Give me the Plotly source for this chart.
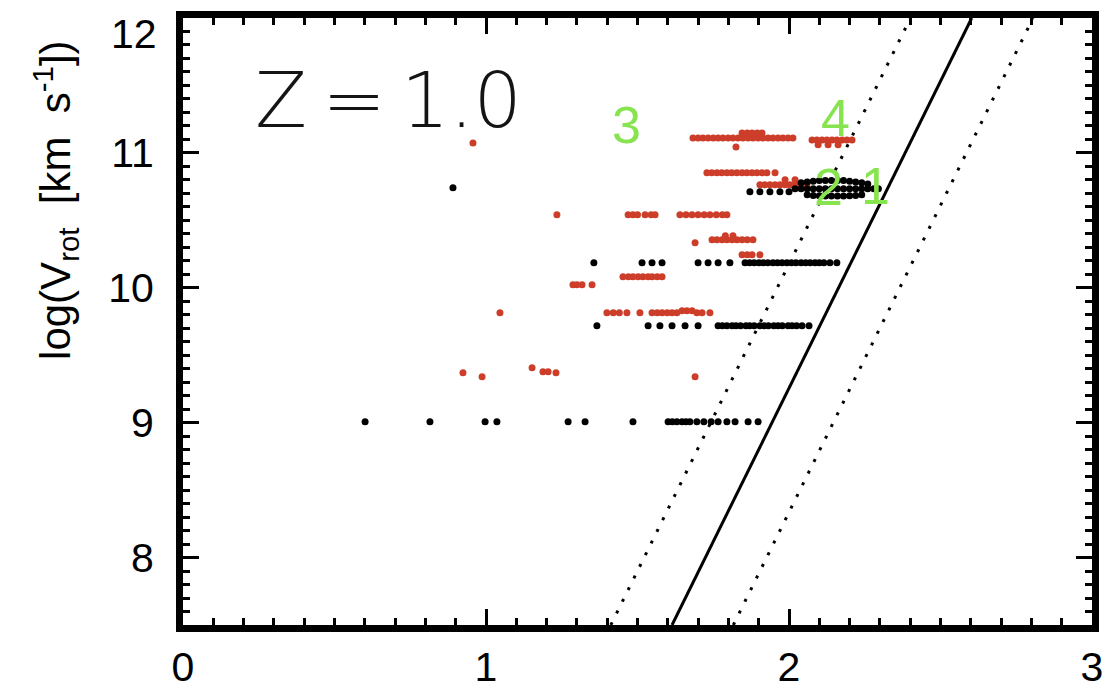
import plotly.graph_objects as go

# ---- axis ranges and tick values ----
x_range = [0, 3]
y_range = [7.5, 12]
x_ticks = [0, 1, 2, 3]
y_ticks = [8, 9, 10, 11, 12]
y_tick_text = ["8", "9", "10", "11", ""]

# ---- reference relation: y = slope * x + intercept, with a +/- scatter band ----
tf_slope = 4.55
tf_intercept = 0.156
tf_band = 0.92

# ---- red sample ----
red_x = [0.957, 1.234,
         1.469, 1.485, 1.500, 1.525, 1.545, 1.558, 1.640, 1.660, 1.680, 1.700, 1.720, 1.739, 1.760, 1.780, 1.795,
         1.683, 1.700, 1.716, 1.733, 1.750, 1.766, 1.782, 1.799, 1.815, 1.832, 1.848, 1.865, 1.881, 1.898,
         1.914, 1.931, 1.947, 1.964, 1.980, 1.997, 2.013,
         1.845, 1.862, 1.878, 1.895, 1.911, 1.825,
         2.076, 2.092, 2.109, 2.125, 2.142, 2.158, 2.175, 2.191, 2.208, 2.096, 2.129, 2.162,
         1.729, 1.745, 1.762, 1.778, 1.795, 1.811, 1.828, 1.845, 1.861, 1.878, 1.894, 1.911, 1.927, 1.954,
         1.904, 1.920, 1.937, 1.954, 1.970, 1.987, 2.003, 2.020, 2.036, 2.059, 1.987, 2.020,
         1.690, 1.746, 1.762, 1.779, 1.795, 1.812, 1.828, 1.845, 1.862, 1.881, 1.790, 1.815,
         1.845, 1.862, 1.878, 1.904,
         1.452, 1.470, 1.485, 1.502, 1.518, 1.535, 1.548, 1.565, 1.581,
         1.287, 1.300, 1.317, 1.350,
         1.046, 1.399, 1.420, 1.440, 1.465, 1.508, 1.548, 1.565, 1.581, 1.598, 1.614, 1.630,
         1.647, 1.663, 1.680, 1.696, 1.713, 1.739,
         0.924, 0.987, 1.152, 1.188, 1.205, 1.231, 1.690]
red_y = [11.074, 10.541,
         10.541, 10.541, 10.541, 10.541, 10.541, 10.541, 10.541, 10.541, 10.541, 10.541, 10.541, 10.541,
         10.541, 10.541, 10.541,
         11.111, 11.111, 11.111, 11.111, 11.111, 11.111, 11.111, 11.111, 11.111, 11.111, 11.111, 11.111,
         11.111, 11.111,
         11.111, 11.111, 11.111, 11.111, 11.111, 11.111, 11.111,
         11.148, 11.148, 11.148, 11.148, 11.148, 11.044,
         11.096, 11.096, 11.096, 11.096, 11.096, 11.096, 11.096, 11.096, 11.096, 11.060, 11.060, 11.060,
         10.852, 10.852, 10.852, 10.852, 10.852, 10.852, 10.852, 10.852, 10.852, 10.852, 10.852, 10.852,
         10.852, 10.852,
         10.763, 10.763, 10.763, 10.763, 10.763, 10.763, 10.763, 10.763, 10.763, 10.763, 10.800, 10.800,
         10.333, 10.356, 10.356, 10.356, 10.356, 10.356, 10.356, 10.356, 10.356, 10.356, 10.385, 10.385,
         10.244, 10.244, 10.244, 10.244,
         10.081, 10.081, 10.081, 10.081, 10.081, 10.081, 10.081, 10.081, 10.081,
         10.022, 10.022, 10.022, 10.022,
         9.815, 9.815, 9.815, 9.815, 9.815, 9.815, 9.815, 9.815, 9.815, 9.815, 9.815, 9.815,
         9.830, 9.830, 9.830, 9.815, 9.815, 9.815,
         9.370, 9.341, 9.407, 9.378, 9.378, 9.370, 9.341]

# ---- black sample ----
black_x = [0.891,
           1.871, 1.904, 1.937, 1.970, 2.000,
           2.040, 2.060, 2.080, 2.100, 2.120, 2.140, 2.160, 2.180, 2.200, 2.220, 2.240, 2.260,
           2.020, 2.040, 2.060, 2.080, 2.100, 2.120, 2.140, 2.160, 2.180, 2.200, 2.220, 2.240, 2.260, 2.280, 2.295,
           2.060, 2.080, 2.100, 2.120, 2.140, 2.160, 2.180, 2.200, 2.220, 2.240,
           1.356, 1.515, 1.548, 1.581, 1.700, 1.733, 1.766, 1.805,
           1.855, 1.870, 1.885, 1.901, 1.915, 1.930, 1.947, 1.962, 1.977, 1.993, 2.008, 2.023, 2.040, 2.055,
           2.070, 2.086, 2.100, 2.115, 2.135, 2.158,
           1.366, 1.535, 1.574, 1.614, 1.657, 1.700,
           1.766, 1.780, 1.795, 1.812, 1.825, 1.840, 1.858, 1.870, 1.885, 1.904, 1.918, 1.932, 1.950, 1.964,
           1.978, 1.997, 2.010, 2.025, 2.043, 2.066,
           0.601, 0.815, 0.997, 1.036, 1.271, 1.327, 1.485,
           1.601, 1.615, 1.630, 1.647, 1.660, 1.673, 1.696, 1.719, 1.743, 1.766, 1.795, 1.822, 1.865, 1.898]
black_y = [10.741,
           10.711, 10.711, 10.711, 10.711, 10.711,
           10.778, 10.785, 10.790, 10.795, 10.795, 10.795, 10.795, 10.795, 10.790, 10.785, 10.778, 10.770,
           10.735, 10.735, 10.735, 10.735, 10.735, 10.735, 10.735, 10.735, 10.735, 10.735, 10.735, 10.735,
           10.735, 10.735, 10.735,
           10.689, 10.685, 10.682, 10.680, 10.680, 10.680, 10.680, 10.682, 10.685, 10.689,
           10.185, 10.185, 10.185, 10.185, 10.185, 10.185, 10.185, 10.185,
           10.185, 10.185, 10.185, 10.185, 10.185, 10.185, 10.185, 10.185, 10.185, 10.185, 10.185, 10.185,
           10.185, 10.185,
           10.185, 10.185, 10.185, 10.185, 10.185, 10.185,
           9.719, 9.719, 9.719, 9.719, 9.719, 9.719,
           9.719, 9.719, 9.719, 9.719, 9.719, 9.719, 9.719, 9.719, 9.719, 9.719, 9.719, 9.719, 9.719, 9.719,
           9.719, 9.719, 9.719, 9.719, 9.719, 9.719,
           9.007, 9.007, 9.007, 9.007, 9.007, 9.007, 9.007,
           9.007, 9.007, 9.007, 9.007, 9.007, 9.007, 9.007, 9.007, 9.007, 9.007, 9.007, 9.007, 9.007, 9.007]

# ---- numbered labels ----
label_text = ["3", "4", "2", "1"]
label_x = [1.465, 2.155, 2.129, 2.287]
label_y = [11.207, 11.260, 10.748, 10.756]

FONT = "Liberation Sans"
RED = "rgb(205,62,42)"
GREEN = "rgb(135,228,78)"

fig = go.Figure()


def x_at(y, shift):
    return (y - (tf_intercept + shift)) / tf_slope


for shift, dash in [(0.0, "solid"), (tf_band, "3px,10px"), (-tf_band, "3px,10px")]:
    fig.add_trace(go.Scatter(
        x=[x_at(y_range[0], shift), x_at(y_range[1], shift)],
        y=[y_range[0], y_range[1]],
        mode="lines", line=dict(color="black", width=3, dash=dash),
        showlegend=False, hoverinfo="skip"))

fig.add_trace(go.Scatter(x=red_x, y=red_y, mode="markers",
                         marker=dict(color=RED, size=7, symbol="circle"),
                         showlegend=False))
fig.add_trace(go.Scatter(x=black_x, y=black_y, mode="markers",
                         marker=dict(color="black", size=7, symbol="circle"),
                         showlegend=False))

for t, lx, ly in zip(label_text, label_x, label_y):
    fig.add_annotation(text=t, x=lx, y=ly, xref="x", yref="y",
                       xanchor="center", yanchor="middle", showarrow=False,
                       font=dict(family=FONT, size=52, color=GREEN))

axis_common = dict(
    showline=True, linewidth=7, linecolor="black", mirror="ticks",
    ticks="inside", ticklen=16, tickwidth=3, tickcolor="black",
    showgrid=False, zeroline=False, automargin=False,
    tickfont=dict(family=FONT, size=41, color="black"),
)

fig.update_xaxes(range=x_range, tickvals=x_ticks, ticklabelstandoff=0,
                 minor=dict(dtick=0.1, tick0=0, ticks="inside", ticklen=7,
                            tickwidth=3, tickcolor="black"),
                 **axis_common)
fig.update_yaxes(range=y_range, tickvals=y_ticks, ticktext=y_tick_text,
                 ticklabelstandoff=14,
                 minor=dict(dtick=0.1, tick0=0, ticks="inside", ticklen=7,
                            tickwidth=3, tickcolor="black"),
                 **axis_common)

fig.add_annotation(text="12", x=0, xref="paper", xanchor="right", xshift=-24,
                   y=11.88, yref="y", yanchor="middle", showarrow=False,
                   font=dict(family=FONT, size=41, color="black"))

fig.add_annotation(text="Z\u2009=\u20091.0", x=0.232, y=11.39, xref="x", yref="y",
                   xanchor="left", yanchor="middle", showarrow=False,
                   font=dict(family="DejaVu Sans", size=76, color="rgb(20,20,20)",
                             weight=300))

fig.add_annotation(text="log(V<sub>rot</sub>  [km  s<sup>-1</sup>])",
                   x=-0.141, y=0.70, xref="paper", yref="paper",
                   xanchor="center", yanchor="middle", textangle=-90,
                   showarrow=False,
                   font=dict(family=FONT, size=42, color="black"))

fig.update_layout(
    width=1112, height=689,
    margin=dict(l=183, r=20, t=18, b=64),
    paper_bgcolor="white", plot_bgcolor="white",
)

fig.write_html("out.html")
